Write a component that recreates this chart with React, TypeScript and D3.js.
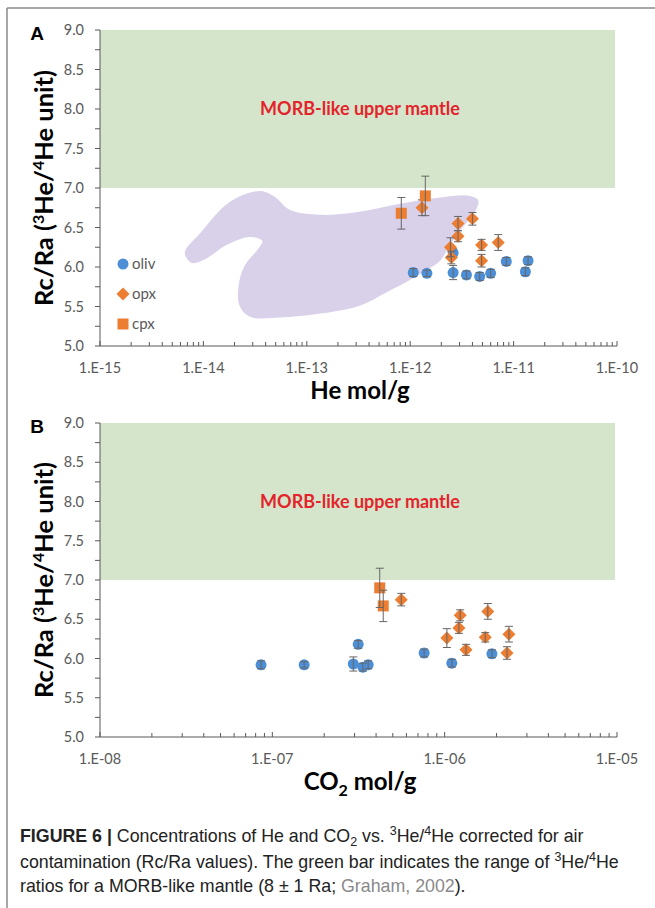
import React from 'react';
import * as d3 from 'd3';

// panel A: He mol/g vs Rc/Ra  [x, y, err]
const heOliv: [number, number, number][] = [
  [1.07e-12, 5.93, 0.05], [1.45e-12, 5.92, 0.04], [2.6e-12, 5.93, 0.09], [2.6e-12, 6.18, 0.05],
  [3.5e-12, 5.9, 0.05], [4.7e-12, 5.88, 0.05], [6e-12, 5.92, 0.05], [8.5e-12, 6.07, 0.05],
  [1.3e-11, 5.94, 0.05], [1.38e-11, 6.08, 0.05]
];
const heOpx: [number, number, number][] = [
  [1.3e-12, 6.75, 0.1], [2.9e-12, 6.55, 0.09], [4.0e-12, 6.61, 0.08], [2.9e-12, 6.39, 0.07],
  [2.45e-12, 6.25, 0.12], [2.5e-12, 6.12, 0.08], [4.9e-12, 6.28, 0.07], [4.9e-12, 6.08, 0.08],
  [7.1e-12, 6.31, 0.1]
];
const heCpx: [number, number, number][] = [
  [8.2e-13, 6.68, 0.2], [1.4e-12, 6.9, 0.25]
];

// panel B: CO2 mol/g vs Rc/Ra
const co2Oliv: [number, number, number][] = [
  [8.6e-8, 5.92, 0.05], [1.53e-7, 5.92, 0.04], [3.15e-7, 6.18, 0.05], [2.95e-7, 5.93, 0.09],
  [3.35e-7, 5.89, 0.05], [3.6e-7, 5.92, 0.05], [7.6e-7, 6.07, 0.05], [1.1e-6, 5.94, 0.05],
  [1.88e-6, 6.06, 0.05]
];
const co2Opx: [number, number, number][] = [
  [5.6e-7, 6.75, 0.08], [1.23e-6, 6.55, 0.07], [1.21e-6, 6.39, 0.07], [1.03e-6, 6.26, 0.12],
  [1.33e-6, 6.11, 0.07], [1.78e-6, 6.6, 0.1], [1.72e-6, 6.27, 0.06], [2.36e-6, 6.31, 0.1],
  [2.3e-6, 6.07, 0.08]
];
const co2Cpx: [number, number, number][] = [
  [4.2e-7, 6.9, 0.25], [4.4e-7, 6.67, 0.2]
];

// lavender field in panel A, [log10 He, Rc/Ra]
const heField: [number, number][] = [
  [-14.18, 6.18], [-14.03, 6.43], [-13.79, 6.78], [-13.6, 6.92], [-13.43, 6.96], [-13.31, 6.89],
  [-13.16, 6.72], [-12.87, 6.66], [-12.49, 6.7], [-12.1, 6.8], [-11.71, 6.88], [-11.42, 6.9],
  [-11.34, 6.84], [-11.37, 6.71], [-11.5, 6.49], [-11.62, 6.27], [-11.71, 6.08], [-11.86, 5.95],
  [-12.05, 5.8], [-12.2, 5.7], [-12.49, 5.51], [-12.87, 5.41], [-13.26, 5.36], [-13.55, 5.37],
  [-13.65, 5.51], [-13.66, 5.76], [-13.6, 6.02], [-13.47, 6.23], [-13.43, 6.33], [-13.55, 6.38],
  [-13.79, 6.27], [-13.98, 6.1], [-14.11, 6.05]
];

const yTicks = d3.range(5, 9.01, 0.25);
const morb = [7, 9];

const BLUE = '#4d8fd6';
const ORANGE = '#ed7d31';
const AXIS = '#595959';
const fmtExp = (v: number) => {
  const e = Math.round(Math.log10(v));
  return '1.E' + (e < 0 ? '-' : '+') + String(Math.abs(e)).padStart(2, '0');
};

type Pt = [number, number, number];

function Panel(props: {
  top: number; bottom: number; domain: [number, number]; letter: string;
  oliv: Pt[]; opx: Pt[]; cpx: Pt[]; xTitle: React.ReactNode; legend?: boolean; field?: [number, number][];
}) {
  const { top, bottom, domain, letter, oliv, opx, cpx, xTitle, legend, field } = props;
  const x = d3.scaleLog().domain(domain).range([100, 617]);
  const y = d3.scaleLinear().domain([5, 9]).range([bottom, top]);
  const xt = x.ticks();
  const isMajor = (v: number) => Math.abs(Math.log10(v) - Math.round(Math.log10(v))) < 1e-6;
  const fieldPath = field
    ? d3.line<[number, number]>()
        .x((d) => x(Math.pow(10, d[0])))
        .y((d) => y(d[1]))
        .curve(d3.curveCatmullRomClosed.alpha(0.5))(field)
    : null;

  const errBars = (pts: Pt[]) =>
    pts.map((d, i) => (
      <g key={'e' + i} stroke="#666" strokeWidth={1}>
        <line x1={x(d[0])} x2={x(d[0])} y1={y(d[1] - d[2])} y2={y(d[1] + d[2])} />
        <line x1={x(d[0]) - 4} x2={x(d[0]) + 4} y1={y(d[1] - d[2])} y2={y(d[1] - d[2])} />
        <line x1={x(d[0]) - 4} x2={x(d[0]) + 4} y1={y(d[1] + d[2])} y2={y(d[1] + d[2])} />
      </g>
    ));
  const diamond = (cx: number, cy: number, r: number) =>
    `M${cx},${cy - r}L${cx + r},${cy}L${cx},${cy + r}L${cx - r},${cy}Z`;

  const midY = (top + bottom) / 2;
  return (
    <g>
      <text x={37} y={top + 10} textAnchor="middle" fontFamily="Liberation Sans, Arial, sans-serif"
        fontWeight="bold" fontSize={19}>{letter}</text>
      <rect x={100} width={515} y={y(morb[1])} height={y(morb[0]) - y(morb[1])} fill="#d5e5cb" />
      <text x={360} y={y(8) + 6} textAnchor="middle" fill="#e3242b" fontFamily="Lato, sans-serif"
        fontWeight="bold" fontSize={18}>MORB-like upper mantle</text>
      {fieldPath && <path d={fieldPath} fill="#d9d0ea" />}

      {/* y axis */}
      <line x1={100} x2={100} y1={top} y2={bottom} stroke={AXIS} />
      {yTicks.map((v) => (
        <g key={v}>
          <line x1={95} x2={100} y1={y(v)} y2={y(v)} stroke={AXIS} />
          {Math.abs(v * 2 - Math.round(v * 2)) < 1e-6 && (
            <text x={84} y={y(v)} dy="0.35em" textAnchor="end" fill={AXIS}
              fontFamily="Lato, sans-serif" fontSize={14.5}>{v.toFixed(1)}</text>
          )}
        </g>
      ))}
      {/* x axis */}
      <line x1={100} x2={617} y1={bottom} y2={bottom} stroke={AXIS} />
      {xt.map((v, i) => (
        <g key={i}>
          <line x1={x(v)} x2={x(v)} y1={bottom} y2={bottom - (isMajor(v) ? 5 : 4)} stroke={AXIS} />
          {isMajor(v) && (
            <text x={x(v)} y={bottom + 27} textAnchor="middle" fill={AXIS}
              fontFamily="Lato, sans-serif" fontSize={14.5}>{fmtExp(v)}</text>
          )}
        </g>
      ))}

      {/* series */}
      {oliv.map((d, i) => <circle key={'o' + i} cx={x(d[0])} cy={y(d[1])} r={5.5} fill={BLUE} />)}
      {errBars(oliv)}
      {opx.map((d, i) => <path key={'p' + i} d={diamond(x(d[0]), y(d[1]), 6.5)} fill={ORANGE} />)}
      {errBars(opx)}
      {cpx.map((d, i) => <rect key={'c' + i} x={x(d[0]) - 5.5} y={y(d[1]) - 5.5} width={11} height={11} fill={ORANGE} />)}
      {errBars(cpx)}

      {legend && (
        <g fontFamily="Lato, sans-serif" fontSize={15} fill={AXIS}>
          <circle cx={123} cy={264} r={5.5} fill={BLUE} />
          <text x={132} y={264} dy="0.35em">oliv</text>
          <path d={diamond(123, 294, 6.5)} fill={ORANGE} />
          <text x={132} y={294} dy="0.35em">opx</text>
          <rect x={117.5} y={318.5} width={11} height={11} fill={ORANGE} />
          <text x={132} y={324} dy="0.35em">cpx</text>
        </g>
      )}

      <text transform={`translate(53,${midY}) rotate(-90)`} textAnchor="middle"
        fontFamily="Lato, sans-serif" fontWeight="bold" fontSize={25.5}>
        Rc/Ra (<tspan fontSize={16} dy={-9}>3</tspan><tspan dy={9}>He/</tspan>
        <tspan fontSize={16} dy={-9}>4</tspan><tspan dy={9}>He unit)</tspan>
      </text>
      <text x={360} y={bottom + 53} textAnchor="middle" fontFamily="Lato, sans-serif"
        fontWeight="bold" fontSize={24}>{xTitle}</text>
    </g>
  );
}

export default function App() {
  const cap = { fontFamily: 'Liberation Sans, Arial, sans-serif', fontSize: 17.8 };
  return (
    <div style={{ position: 'absolute', left: 0, top: 0 }}>
      <svg width={655} height={908} style={{ display: 'block', background: '#fff' }}>
        <line x1={7} x2={655} y1={8} y2={8} stroke="#8a8a8a" strokeWidth={1.5} />
        <line x1={7} x2={7} y1={8} y2={908} stroke="#8a8a8a" strokeWidth={1.5} />
        <Panel top={30} bottom={346} domain={[1e-15, 1e-10]} letter="A"
          oliv={heOliv} opx={heOpx} cpx={heCpx} legend field={heField} xTitle="He mol/g" />
        <Panel top={423} bottom={737} domain={[1e-8, 1e-5]} letter="B"
          oliv={co2Oliv} opx={co2Opx} cpx={co2Cpx}
          xTitle={<>CO<tspan fontSize={16} dy={6}>2</tspan><tspan dy={-6}> mol/g</tspan></>} />
        <g {...cap} fill="#222">
          <text x={20} y={842}>
            <tspan fontWeight="bold">FIGURE 6 | </tspan>Concentrations of He and CO<tspan fontSize={12.5} dy={4}>2</tspan>
            <tspan dy={-4}> vs. </tspan><tspan fontSize={12.5} dy={-7}>3</tspan><tspan dy={7}>He/</tspan>
            <tspan fontSize={12.5} dy={-7}>4</tspan><tspan dy={7}>He corrected for air</tspan>
          </text>
          <text x={20} y={868}>
            contamination (Rc/Ra values). The green bar indicates the range of <tspan fontSize={12.5} dy={-7}>3</tspan>
            <tspan dy={7}>He/</tspan><tspan fontSize={12.5} dy={-7}>4</tspan><tspan dy={7}>He</tspan>
          </text>
          <text x={20} y={892}>
            ratios for a MORB-like mantle (8 ± 1 Ra; <tspan fill="#8a8a8a">Graham, 2002</tspan>).
          </text>
        </g>
      </svg>
    </div>
  );
}
